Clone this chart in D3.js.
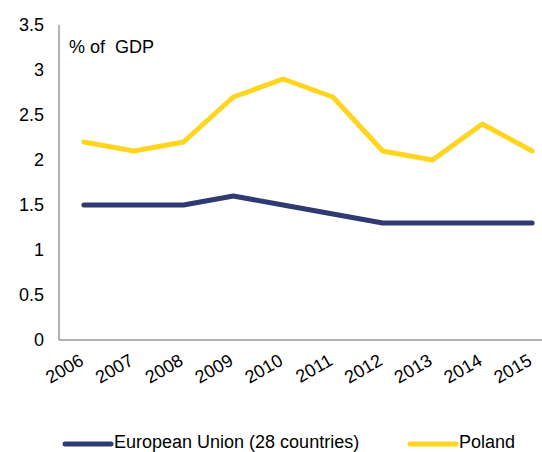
<!DOCTYPE html>
<html><head><meta charset="utf-8">
<script src="https://cdn.jsdelivr.net/npm/d3@7"></script>
<style>body{margin:0;background:#fff}svg{display:block;font-family:"Liberation Sans",Arial,sans-serif}</style>
</head><body>
<script>
const years = ["2006","2007","2008","2009","2010","2011","2012","2013","2014","2015"];
const euValues = [1.5,1.5,1.5,1.6,1.5,1.4,1.3,1.3,1.3,1.3];
const polandValues = [2.2,2.1,2.2,2.7,2.9,2.7,2.1,2.0,2.4,2.1];
const yTicks = [0,0.5,1,1.5,2,2.5,3,3.5];
const seriesNames = ["European Union (28 countries)","Poland"];
const seriesColors = ["#2f3a72","#ffd520"];

const W=542,H=452,FS=18;
const svg=d3.select("body").append("svg").attr("width",W).attr("height",H);
const x=d3.scaleBand().domain(years).range([59,557]);
const y=d3.scaleLinear().domain([0,3.5]).range([340,25]);

svg.append("line").attr("x1",59).attr("x2",59).attr("y1",y(3.5)).attr("y2",y(0)).attr("stroke","#999").attr("stroke-width",1.5);
svg.append("line").attr("x1",59).attr("x2",557).attr("y1",y(0)).attr("y2",y(0)).attr("stroke","#999").attr("stroke-width",1.5);

svg.selectAll(".yt").data(yTicks).enter().append("text")
  .attr("x",44).attr("y",d=>y(d)).attr("dy","0.35em").attr("text-anchor","end")
  .attr("font-size",FS).attr("fill","#000").text(d=>d);

svg.selectAll(".xt").data(years).enter().append("text")
  .attr("transform",d=>`translate(${x(d)+x.bandwidth()/2+1},${y(0)+24}) rotate(-30)`)
  .attr("text-anchor","end").attr("font-size",FS).attr("fill","#000").text(d=>d);

svg.append("text").attr("x",69).attr("y",53).attr("font-size",FS).attr("fill","#000").attr("xml:space","preserve").text("% of  GDP");

const line=d3.line().x((d,i)=>x(years[i])+x.bandwidth()/2).y(d=>y(d));
[euValues,polandValues].forEach((vals,k)=>{
  svg.append("path").attr("d",line(vals)).attr("fill","none").attr("stroke",seriesColors[k])
    .attr("stroke-width",5).attr("stroke-linejoin","round").attr("stroke-linecap","round");
});

const legX=[65,410];
seriesNames.forEach((n,k)=>{
  svg.append("line").attr("x1",legX[k]).attr("x2",legX[k]+46).attr("y1",444).attr("y2",444)
    .attr("stroke",seriesColors[k]).attr("stroke-width",5).attr("stroke-linecap","round");
  svg.append("text").attr("x",legX[k]+49).attr("y",448).attr("font-size",FS).attr("fill","#000").text(n);
});
</script>
</body></html>
